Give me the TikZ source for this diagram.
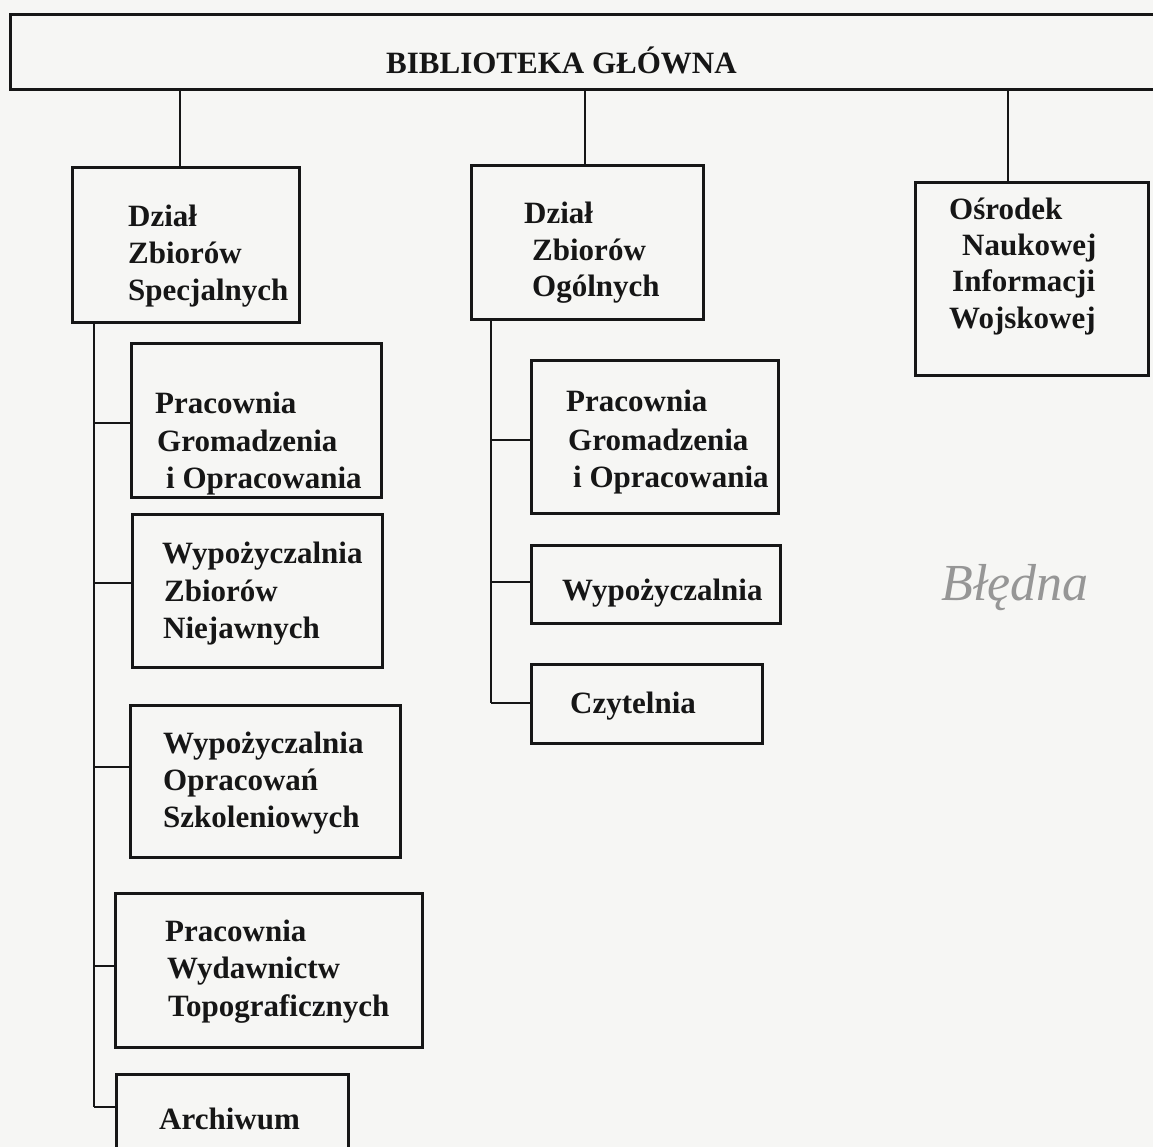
\documentclass[tikz,border=0pt]{standalone}
\usepackage{fontspec}
\setmainfont{Liberation Serif}
\usetikzlibrary{fit}
\definecolor{ink}{RGB}{22,22,22}
\definecolor{paper}{RGB}{246,246,244}
\definecolor{pencil}{RGB}{150,150,150}
\begin{document}
\begin{tikzpicture}[x=1pt,y=-1pt,
  box/.style={draw=ink, line width=3pt, inner sep=0pt},
  conn/.style={draw=ink, line width=2.2pt},
  txt/.style={anchor=base west, inner sep=0pt, text=ink, font=\fontsize{31}{37}\selectfont\bfseries},
  hand/.style={anchor=center, inner sep=0pt, text=pencil, font=\fontsize{52}{52}\selectfont\itshape}]
\fill[paper] (0,0) rectangle (1153,1147);
\useasboundingbox (0,0) rectangle (1153,1147);
\clip (0,0) rectangle (1153,1147);

% boxes
\node[box, fit={(10,15) (1170,90)}] (top) {};
\node[box, fit={(72,168) (299,323)}] (b1) {};
\node[box, fit={(471,166) (703,320)}] (b2) {};
\node[box, fit={(915,183) (1148,375)}] (b3) {};
\node[box, fit={(131,343) (381,497)}] (l1) {};
\node[box, fit={(132,514) (382,667)}] (l2) {};
\node[box, fit={(130,705) (400,857)}] (l3) {};
\node[box, fit={(115,893) (422,1047)}] (l4) {};
\node[box, fit={(116,1074) (348,1180)}] (l5) {};
\node[box, fit={(531,360) (778,513)}] (m1) {};
\node[box, fit={(531,545) (780,623)}] (m2) {};
\node[box, fit={(531,664) (762,743)}] (m3) {};

% texts
\node[txt] (t0) at (386,74) {BIBLIOTEKA GŁÓWNA};
\node[txt] (b1a) at (128,227) {Dział};
\node[txt] (b1b) at (128,264) {Zbiorów};
\node[txt] (b1c) at (128,301) {Specjalnych};
\node[txt] (b2a) at (524,224) {Dział};
\node[txt] (b2b) at (532,261) {Zbiorów};
\node[txt] (b2c) at (532,297) {Ogólnych};
\node[txt] (b3a) at (949,220) {Ośrodek};
\node[txt] (b3b) at (962,256) {Naukowej};
\node[txt] (b3c) at (952,292) {Informacji};
\node[txt] (b3d) at (949,329) {Wojskowej};
\node[txt] (l1a) at (155,413) {Pracownia};
\node[txt] (l1b) at (157,451) {Gromadzenia};
\node[txt] (l1c) at (166,488) {i Opracowania};
\node[txt] (l2a) at (162,563) {Wypożyczalnia};
\node[txt] (l2b) at (164,601) {Zbiorów};
\node[txt] (l2c) at (163,638) {Niejawnych};
\node[txt] (l3a) at (163,753) {Wypożyczalnia};
\node[txt] (l3b) at (163,790) {Opracowań};
\node[txt] (l3c) at (163,827) {Szkoleniowych};
\node[txt] (l4a) at (165,941) {Pracownia};
\node[txt] (l4b) at (167,978) {Wydawnictw};
\node[txt] (l4c) at (168,1016) {Topograficznych};
\node[txt] (l5a) at (159,1129) {Archiwum};
\node[txt] (m1a) at (566,411) {Pracownia};
\node[txt] (m1b) at (568,450) {Gromadzenia};
\node[txt] (m1c) at (573,487) {i Opracowania};
\node[txt] (m2a) at (562,600) {Wypożyczalnia};
\node[txt] (m3a) at (570,713) {Czytelnia};
\node[hand] (note) at (1015,588) {Błędna};

% connector guides
\coordinate (d1) at (180,0);
\coordinate (d2) at (585,0);
\coordinate (d3) at (1008,0);
\coordinate (sL) at (94,0);
\coordinate (sM) at (491,0);
\coordinate (yl1) at (0,423);
\coordinate (yl2) at (0,583);
\coordinate (yl3) at (0,767);
\coordinate (yl4) at (0,966);
\coordinate (yl5) at (0,1107);
\coordinate (ym1) at (0,440);
\coordinate (ym2) at (0,582);
\coordinate (ym3) at (0,703);

% connectors
\draw[conn] (top.south -| d1) -- (d1 |- b1.north);
\draw[conn] (top.south -| d2) -- (d2 |- b2.north);
\draw[conn] (top.south -| d3) -- (d3 |- b3.north);
\draw[conn] (sL |- b1.south) -- (sL |- yl5);
\draw[conn] (sL |- yl1) -- (l1.west |- yl1);
\draw[conn] (sL |- yl2) -- (l2.west |- yl2);
\draw[conn] (sL |- yl3) -- (l3.west |- yl3);
\draw[conn] (sL |- yl4) -- (l4.west |- yl4);
\draw[conn] (sL |- yl5) -- (l5.west |- yl5);
\draw[conn] (sM |- b2.south) -- (sM |- ym3);
\draw[conn] (sM |- ym1) -- (m1.west |- ym1);
\draw[conn] (sM |- ym2) -- (m2.west |- ym2);
\draw[conn] (sM |- ym3) -- (m3.west |- ym3);
\end{tikzpicture}
\end{document}
